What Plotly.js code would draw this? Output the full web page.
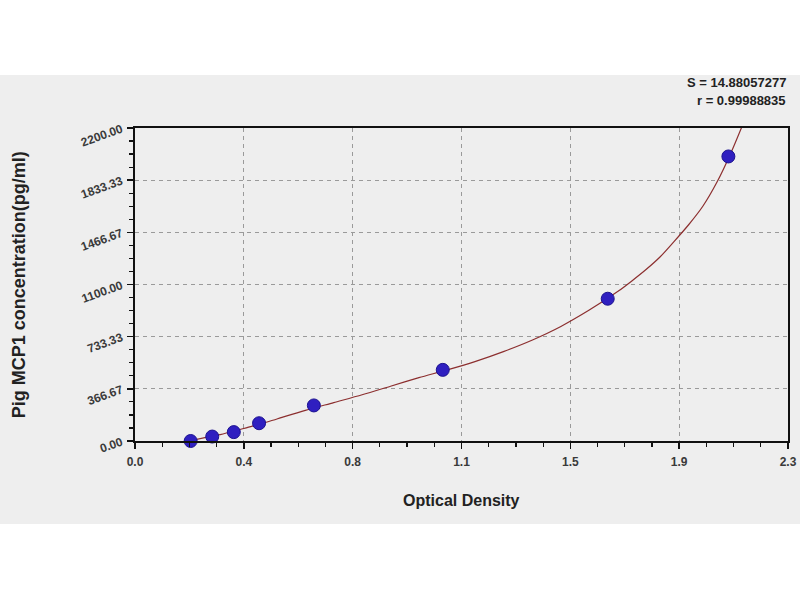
<!DOCTYPE html>
<html>
<head>
<meta charset="utf-8">
<script src="https://cdn.plot.ly/plotly-3.0.1.min.js"></script>
<style>html,body{margin:0;padding:0;background:#fff;}#chart{width:800px;height:600px;}</style>
</head>
<body>
<div id="chart"></div>
<script>
// Standard points (optical density vs concentration)
const odValues = [0.196, 0.272, 0.348, 0.437, 0.630, 1.084, 1.665, 2.090];
const concValues = [0, 31.25, 62.5, 125, 250, 500, 1000, 2000];

// Fitted curve
const curveOD = [0.19, 0.25, 0.30, 0.35, 0.40, 0.45, 0.50, 0.60, 0.70, 0.80, 0.90, 1.00, 1.10, 1.20, 1.30, 1.40, 1.50, 1.60, 1.70, 1.75, 1.80, 1.85, 1.90, 1.95, 2.00, 2.05, 2.10, 2.15];
const curveConc = [0, 25, 45, 70, 98, 125, 155, 215, 270, 325, 385, 445, 500, 560, 630, 710, 805, 920, 1050, 1125, 1205, 1295, 1405, 1520, 1650, 1820, 2030, 2270];

// Tick labels
const xTickVals = [0, 0.38333, 0.76667, 1.15, 1.53333, 1.91667, 2.3];
const xTickText = ["0.0", "0.4", "0.8", "1.1", "1.5", "1.9", "2.3"];
const yTickVals = [0, 366.667, 733.333, 1100, 1466.667, 1833.333, 2200];
const yTickText = ["0.00", "366.67", "733.33", "1100.00", "1466.67", "1833.33", "2200.00"];

const xTitle = "Optical Density";
const yTitle = "Pig MCP1 concentration(pg/ml)";
const statS = "S = 14.88057277";
const statR = "r = 0.99988835";

const traces = [
  {
    x: curveOD, y: curveConc, type: 'scatter', mode: 'lines',
    line: {color: '#8c2f2f', width: 1.2, shape: 'spline', smoothing: 0.8},
    hoverinfo: 'skip'
  },
  {
    x: odValues, y: concValues, type: 'scatter', mode: 'markers',
    marker: {color: '#2f1fc0', size: 13, symbol: 'circle', line: {color: '#1c1290', width: 1}},
    cliponaxis: false
  }
];

const fam = 'Liberation Sans, Arial, sans-serif';
const axisFont = {family: fam, size: 12, color: '#3a3a3a', weight: 'bold'};

const layout = {
  width: 800, height: 600,
  paper_bgcolor: '#ffffff',
  plot_bgcolor: '#ffffff',
  showlegend: false,
  margin: {l: 135, r: 12, t: 128, b: 159},
  xaxis: {
    range: [0, 2.3],
    tickmode: 'array', tickvals: xTickVals, ticktext: xTickText,
    ticks: 'outside', ticklen: 6, tickwidth: 1.5, tickcolor: '#111',
    ticklabelstandoff: 3,
    minor: {ticks: 'outside', tick0: 0, dtick: 0.0958333, ticklen: 4, tickwidth: 1.2, tickcolor: '#111', showgrid: false},
    showline: true, linecolor: '#111', linewidth: 2, mirror: true,
    showgrid: true, gridcolor: '#9a9a9a', griddash: '4px,4px', gridwidth: 1,
    zeroline: false,
    tickfont: axisFont
  },
  yaxis: {
    range: [0, 2200],
    tickmode: 'array', tickvals: yTickVals, ticktext: yTickText,
    ticks: 'outside', ticklen: 6, tickwidth: 1.5, tickcolor: '#111',
    ticklabelstandoff: 3,
    minor: {ticks: 'outside', tick0: 0, dtick: 91.6667, ticklen: 4, tickwidth: 1.2, tickcolor: '#111', showgrid: false},
    showline: true, linecolor: '#111', linewidth: 2, mirror: true,
    showgrid: true, gridcolor: '#9a9a9a', griddash: '4px,4px', gridwidth: 1,
    zeroline: false,
    tickangle: -20,
    tickfont: axisFont
  },
  shapes: [
    {type: 'rect', xref: 'paper', yref: 'paper', x0: -0.3, x1: 1.1, y0: -0.265, y1: 1.169,
     fillcolor: '#eeeeee', line: {width: 0}, layer: 'below'}
  ],
  annotations: [
    {xref: 'paper', yref: 'paper', x: 0.5, y: -0.19, xanchor: 'center', yanchor: 'middle', showarrow: false,
     text: xTitle, font: {family: fam, size: 16, color: '#222', weight: 'bold'}},
    {xref: 'paper', yref: 'paper', x: -0.178, y: 0.5, xanchor: 'center', yanchor: 'middle', showarrow: false,
     textangle: -90, text: yTitle, font: {family: fam, size: 18, color: '#222', weight: 'bold'}},
    {xref: 'paper', yref: 'paper', x: 1.0, y: 1.145, xanchor: 'right', yanchor: 'middle', showarrow: false,
     text: statS, font: {family: fam, size: 13, color: '#222', weight: 'bold'}},
    {xref: 'paper', yref: 'paper', x: 1.0, y: 1.088, xanchor: 'right', yanchor: 'middle', showarrow: false,
     text: statR, font: {family: fam, size: 13, color: '#222', weight: 'bold'}}
  ]
};

Plotly.newPlot('chart', traces, layout, {displayModeBar: false, staticPlot: true});
</script>
</body>
</html>
